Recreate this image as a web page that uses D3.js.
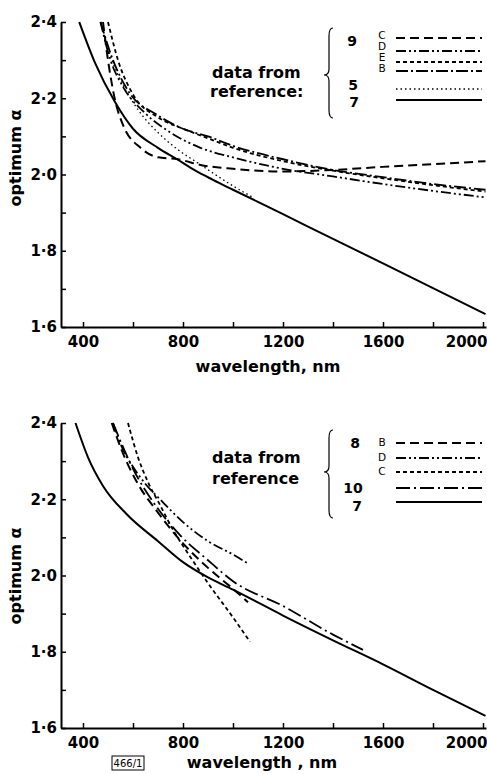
<!DOCTYPE html>
<html>
<head>
<meta charset="utf-8">
<script src="https://cdn.jsdelivr.net/npm/d3@7"></script>
<style>
body { margin: 0; background: #fff; }
svg { display: block; font-family: "DejaVu Sans", sans-serif; }
</style>
</head>
<body>
<svg id="chart" width="487" height="774"></svg>
<script>
/* ticks */
var xTicks = [400, 600, 800, 1000, 1200, 1400, 1600, 1800, 2000];
var xLabels = [400, 800, 1200, 1600, 2000];
var yTicks = [1.6, 1.7, 1.8, 1.9, 2.0, 2.1, 2.2, 2.3, 2.4];
var yLabels = [1.6, 1.8, 2.0, 2.2, 2.4];

/* upper panel: [wavelength nm, optimum alpha] */
var top9C = [[480,2.40],[500,2.30],[530,2.19],[560,2.13],[630,2.07],[700,2.045],[780,2.04],[870,2.025],[1000,2.015],[1200,2.008],[1400,2.012],[1600,2.02],[1800,2.027],[2010,2.035]];
var top9D = [[470,2.40],[510,2.30],[560,2.23],[650,2.16],[750,2.11],[870,2.07],[1000,2.045],[1200,2.015],[1400,1.995],[1600,1.975],[1800,1.957],[2010,1.94]];
var top9E = [[500,2.40],[540,2.30],[600,2.21],[700,2.15],[800,2.12],[900,2.095],[1000,2.07],[1200,2.035],[1400,2.01],[1600,1.99],[1800,1.972],[2010,1.955]];
var top9B = [[470,2.40],[520,2.30],[580,2.22],[700,2.155],[800,2.12],[900,2.10],[1000,2.075],[1200,2.04],[1400,2.012],[1600,1.993],[1800,1.975],[2010,1.96]];
var top5 = [[470,2.40],[510,2.31],[560,2.235],[620,2.17],[700,2.11],[780,2.065],[860,2.03],[940,1.995],[1000,1.97],[1080,1.94]];
var top7 = [[385,2.40],[450,2.29],[528,2.19],[600,2.12],[700,2.07],[776,2.04],[850,2.01],[920,1.986],[1000,1.96],[1200,1.896],[1400,1.831],[1600,1.767],[1800,1.702],[2010,1.634]];

/* lower panel */
var bot8B = [[515,2.40],[560,2.32],[620,2.24],[700,2.165],[788,2.093],[900,2.02],[1000,1.965],[1060,1.93]];
var bot8D = [[520,2.40],[560,2.33],[600,2.285],[650,2.24],[708,2.20],[800,2.14],[900,2.09],[1000,2.055],[1056,2.033]];
var bot8C = [[580,2.40],[620,2.31],[660,2.245],[708,2.185],[760,2.12],[828,2.05],[900,1.98],[1000,1.89],[1068,1.826]];
var bot10 = [[520,2.40],[600,2.28],[700,2.175],[788,2.106],[900,2.04],[1000,1.985],[1200,1.92],[1400,1.845],[1520,1.805]];
var bot7 = [[370,2.40],[420,2.31],[480,2.235],[576,2.16],[700,2.09],[800,2.035],[900,1.995],[1000,1.963],[1200,1.895],[1400,1.83],[1600,1.767],[1800,1.70],[2010,1.632]];

var svg = d3.select("#chart");

var fmt = function(d) { return d.toFixed(1).replace(".", "\u00b7"); };

function drawPanel(top, bottom, series, legend) {
    var x = d3.scaleLinear().domain([312, 2012]).range([61, 486]);
    var y = d3.scaleLinear().domain([1.6, 2.4]).range([bottom, top]);
    var g = svg.append("g");

    var xAxis = d3.axisBottom(x).tickValues(xTicks).tickSizeInner(-5).tickSizeOuter(0).tickPadding(9)
        .tickFormat(function(d) { return xLabels.indexOf(d) >= 0 ? d : ""; });
    var gx = g.append("g").attr("transform", "translate(0," + bottom + ")").call(xAxis);

    var yAxis = d3.axisLeft(y).tickValues(yTicks).tickSizeInner(-5).tickSizeOuter(0).tickPadding(4)
        .tickFormat(function(d) { return yLabels.some(function(v) { return Math.abs(v - d) < 1e-6; }) ? fmt(d) : ""; });
    var gy = g.append("g").attr("transform", "translate(61,0)").call(yAxis);

    [gx, gy].forEach(function(a) {
        a.select(".domain").attr("stroke", "#000").attr("stroke-width", 2);
        a.selectAll(".tick line").attr("stroke", "#000").attr("stroke-width", 1.5);
        a.selectAll("text").attr("fill", "#000").attr("font-size", 15).attr("font-weight", "bold")
            .attr("font-family", "DejaVu Sans, sans-serif");
    });
    // last label sits against the right edge
    gx.selectAll(".tick text").filter(function(d) { return d === 2000; })
        .attr("text-anchor", "end").attr("dx", 4);

    var line = d3.line()
        .x(function(d) { return x(d[0]); })
        .y(function(d) { return y(d[1]); })
        .curve(d3.curveMonotoneX);

    g.selectAll("path.curve").data(series).enter().append("path")
        .attr("class", "curve")
        .attr("d", function(s) { return line(s.data); })
        .attr("fill", "none")
        .attr("stroke", "#000")
        .attr("stroke-width", function(s) { return s.w; })
        .attr("stroke-dasharray", function(s) { return s.dash; });

    /* legend samples */
    g.selectAll("line.leg").data(series).enter().append("line")
        .attr("class", "leg")
        .attr("x1", 396).attr("x2", 482)
        .attr("y1", function(s, i) { return legend.ys[i]; })
        .attr("y2", function(s, i) { return legend.ys[i]; })
        .attr("stroke", "#000")
        .attr("stroke-width", function(s) { return s.w; })
        .attr("stroke-dasharray", function(s) { return s.dash; });

    g.selectAll("text.letter").data(series.filter(function(s) { return s.letter; })).enter().append("text")
        .attr("class", "letter")
        .attr("x", 382)
        .attr("y", function(s) { return s.ly; })
        .attr("text-anchor", "middle")
        .attr("font-size", 10.5)
        .text(function(s) { return s.letter; });

    legend.refs.forEach(function(r) {
        g.append("text").attr("x", r[1]).attr("y", r[2]).attr("text-anchor", "middle")
            .attr("font-size", 14).attr("font-weight", "bold").text(r[0]);
    });

    /* brace */
    var bx = legend.brace[0], b0 = legend.brace[1], bm = legend.brace[2], b1 = legend.brace[3];
    g.append("path")
        .attr("d", "M" + (bx + 4) + "," + b0 + " Q" + bx + "," + b0 + " " + bx + "," + (b0 + 8) +
            " L" + bx + "," + (bm - 6) + " Q" + bx + "," + bm + " " + (bx - 5) + "," + bm +
            " Q" + bx + "," + bm + " " + bx + "," + (bm + 6) +
            " L" + bx + "," + (b1 - 8) + " Q" + bx + "," + b1 + " " + (bx + 4) + "," + b1)
        .attr("fill", "none").attr("stroke", "#000").attr("stroke-width", 1.2);

    legend.text.forEach(function(t) {
        g.append("text").attr("x", t[1]).attr("y", t[2]).attr("font-size", 16).attr("font-weight", "bold")
            .text(t[0]);
    });

    g.append("text")
        .attr("transform", "translate(" + 21 + "," + legend.ylab + ") rotate(-90)")
        .attr("text-anchor", "middle")
        .attr("font-size", 16).attr("font-weight", "bold")
        .text("optimum \u03b1");

    return g;
}

var topSeries = [
    { data: top9C, dash: "9,5", w: 2, letter: "C", ly: 39 },
    { data: top9D, dash: "10,3,2,3,2,3", w: 1.8, letter: "D", ly: 50 },
    { data: top9E, dash: "4,3", w: 1.8, letter: "E", ly: 61 },
    { data: top9B, dash: "12,3,2,3", w: 1.8, letter: "B", ly: 72 },
    { data: top5, dash: "1.5,3", w: 1.3 },
    { data: top7, dash: null, w: 2 }
];
var botSeries = [
    { data: bot8B, dash: "9,5", w: 2, letter: "B", ly: 446 },
    { data: bot8D, dash: "10,3,2,3,2,3", w: 1.8, letter: "D", ly: 461 },
    { data: bot8C, dash: "4,3", w: 1.8, letter: "C", ly: 475 },
    { data: bot10, dash: "14,4,2,4", w: 1.8 },
    { data: bot7, dash: null, w: 2 }
];

var g1 = drawPanel(22, 327, topSeries, {
    ys: [38, 51, 62, 71, 89, 100],
    refs: [["9", 352, 46], ["5", 353, 90], ["7", 354, 107]],
    brace: [329, 28, 75, 118],
    text: [["data from", 212, 78], ["reference:", 210, 97]],
    ylab: 158
});
g1.append("text").attr("x", 268).attr("y", 372).attr("text-anchor", "middle")
    .attr("font-size", 16).attr("font-weight", "bold").text("wavelength, nm");

var g2 = drawPanel(423, 728, botSeries, {
    ys: [443, 458, 472, 488, 502],
    refs: [["8", 355, 448], ["10", 353, 493], ["7", 357, 511]],
    brace: [329, 430, 472, 518],
    text: [["data from", 212, 463], ["reference", 212, 484]],
    ylab: 576
});
g2.append("text").attr("x", 262).attr("y", 768).attr("text-anchor", "middle")
    .attr("font-size", 16).attr("font-weight", "bold").text("wavelength , nm");
g2.append("rect").attr("x", 112).attr("y", 756).attr("width", 32).attr("height", 14)
    .attr("fill", "none").attr("stroke", "#000").attr("stroke-width", 1);
g2.append("text").attr("x", 128).attr("y", 767).attr("text-anchor", "middle")
    .attr("font-size", 10).text("466/1");
</script>
</body>
</html>
